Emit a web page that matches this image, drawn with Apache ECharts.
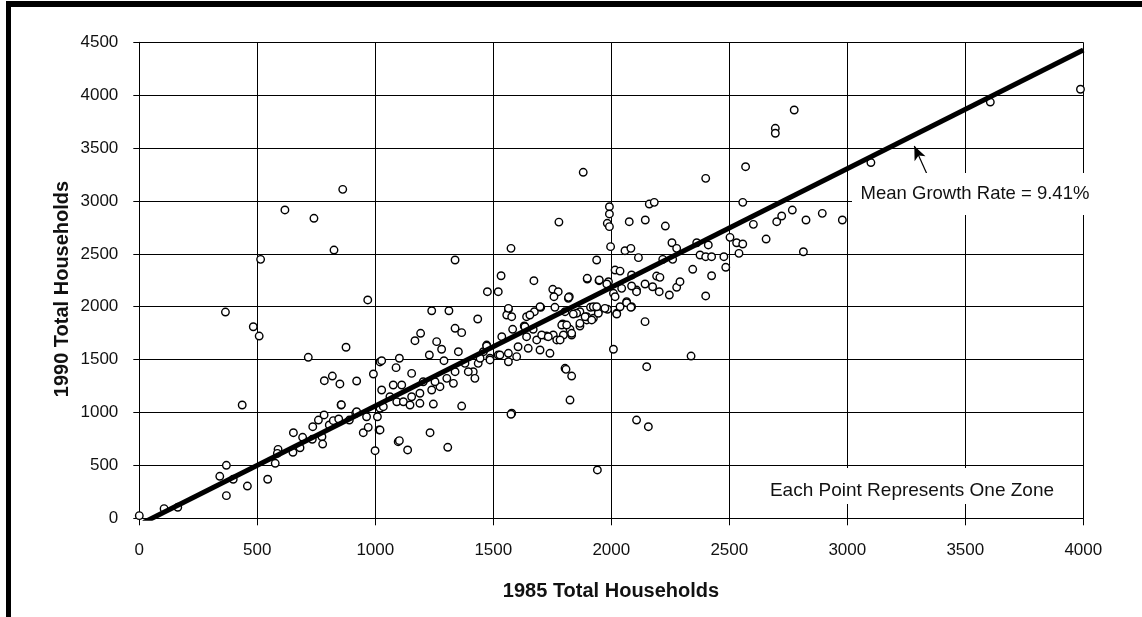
<!DOCTYPE html>
<html>
<head>
<meta charset="utf-8">
<script src="https://cdn.jsdelivr.net/npm/echarts@6/dist/echarts.min.js"></script>
<style>
  html, body { margin: 0; padding: 0; background: #fff; }
  #chart { width: 1142px; height: 617px; }
</style>
</head>
<body>
<div id="chart"></div>
<script>
// ---- Data ----
const xTicks = [0, 500, 1000, 1500, 2000, 2500, 3000, 3500, 4000];
const yTicks = [0, 500, 1000, 1500, 2000, 2500, 3000, 3500, 4000, 4500];

// Each zone: [1985 total households, 1990 total households]
const zonesLow = [
  [0,25],[105,91],[163,104],[341,397],[369,501],[398,369],[369,214],[458,305],[544,369],[576,520],
  [588,652],[585,614],[653,809],[651,624],[681,667],[692,766],[735,866],[733,747],[759,929],[774,771],
  [777,702],[783,977],[805,882],[822,923],[845,939],[855,1071],[890,929],[917,993],[949,809],[970,860],
  [963,960],[999,639],[1009,960],[1016,835],[1097,724],[436,1071],[1020,1040],[1091,1102]
];
const zonesOutliersLeft = [
  [365,1950],[483,1811],[508,1723],[716,1522],[876,1617],[784,1301],[818,1345],[850,1270],[921,1298],
  [992,1364],[856,1074],[1020,1478],[921,1008],[862,3110],[617,2915],[740,2836],[825,2536],[514,2448],[968,2064]
];
const zonesMid = [
  [1338,2442],[1938,2442],[1533,2293],[1672,2246],[1475,2142],[1521,2142],[1898,2262],[1948,2246],[1752,2165],[1775,2142],
  [1757,2095],[1818,2080],[1239,1962],[1312,1962],[1434,1884],[1564,1976],[1557,1922],[1578,1906],[1641,1906],[1674,1953],
  [1701,1995],[1761,1995],[1867,1953],[1912,1995],[1984,1976],[1338,1796],[1366,1755],[1192,1749],[1168,1679],[1260,1670],
  [1281,1598],[1352,1575],[1229,1544],[1102,1513],[1027,1490],[1088,1424],[1291,1490],[1472,1638],[1536,1717],[1582,1787],
  [1631,1818],[1641,1717],[1684,1686],[1726,1723],[1754,1733],[1794,1837],[1825,1787],[1832,1733],[1896,1875],[1605,1622],
  [1648,1607],[1698,1591],[1740,1560],[1564,1560],[1564,1480],[1521,1544],[1486,1513],[1436,1465],[1415,1386],[1422,1323],
  [1338,1386],[1331,1276],[1274,1244],[1203,1291],[1154,1370],[1154,1149],[1112,1260],[1062,1149],[1119,1102],[1147,1071],
  [1246,1080],[1366,1061],[1034,1055],[1578,993],[1804,1418],[1832,1345],[1825,1118],[1232,809],[1102,734],[1137,646],
  [1307,671],[1020,835],[1669,1787],[1797,1733],[1867,1818],[1924,1891],[1945,1953],[1458,1575],[1394,1386],[1380,1465],
  [1303,1323],[1253,1291],[1239,1213],[1189,1182],[1076,1260],[1189,1087],[1027,1213]
];
const zonesCluster = [
  [1472,1629],[1444,1513],[1486,1497],[1528,1544],[1564,1985],[1599,1528],[1634,1811],[1655,1922],[1698,2000],[1705,1733],
  [1733,1717],[1769,1686],[1790,1827],[1822,2095],[1853,1938],[1867,1843],[1896,1906],[1924,2000],[1945,1938],[1988,2237],
  [2009,2127],[2023,1938],[2065,2048],[2086,2000],[2086,2300],[2107,2158],[1839,1931],[1889,1906],[1917,1875],[1938,2000],
  [1973,1985],[1811,1827],[1832,1749],[1783,1686],[2044,2174],[1981,2215],[2037,2000],[1804,1953]
];
const zonesHigh = [
  [1881,3271],[2400,3214],[2569,3324],[1992,2946],[1992,2877],[1983,2789],[1992,2757],[2161,2971],[2182,2987],[2076,2804],
  [2144,2820],[2229,2763],[2557,2987],[2602,2779],[2656,2640],[2701,2804],[2722,2858],[2767,2914],[2825,2820],[2814,2520],
  [1997,2568],[2058,2530],[2083,2552],[2115,2464],[2257,2605],[2277,2552],[2411,2584],[2376,2489],[2400,2473],[2425,2473],
  [2477,2473],[2503,2656],[2531,2605],[2557,2593],[2541,2505],[2485,2373],[2345,2354],[2425,2293],[2400,2102],[2218,2448],
  [2016,2347],[2037,2337],[2192,2290],[2206,2278],[2143,2215],[2175,2189],[2203,2142],[2246,2111],[2277,2184],[2291,2237],
  [2107,2142],[2086,2196],[1898,2269],[1949,2253],[2016,2095],[2065,2038],[2083,1995],[2143,1859],[2023,1931],[2009,1598],
  [2338,1534],[1819,2089],[1778,2800],[2362,2605],[2260,2448],[1575,2552],[1941,457],[1575,983],[2107,929],[2157,866],
  [1808,1408],[2150,1433],[2695,3687],[2695,3640],[2775,3860],[3100,3363],[3606,3935],[3988,4056],[2894,2883],[2979,2820]
];
const zones = [].concat(zonesLow, zonesOutliersLeft, zonesMid, zonesCluster, zonesHigh);

// Mean growth line (end points)
const trend1985 = [18, 4000];
const trend1990 = [-40, 4427];

// Annotation arrow (tail -> head), data coordinates
const arrow1985 = [3336, 3284];
const arrow1990 = [3261, 3520];

const chart = echarts.init(document.getElementById('chart'), null, { renderer: 'canvas' });

const axisTxt = {
  color: '#111', fontFamily: 'Liberation Sans, Arial, sans-serif', fontSize: 17,
  formatter: function (v) { return String(v); }
};

chart.setOption({
  animation: false,
  backgroundColor: '#fff',
  grid: { left: 139.3, right: 58.7, top: 42.3, bottom: 98.7, containLabel: false },
  xAxis: {
    type: 'value', min: xTicks[0], max: xTicks[xTicks.length - 1], interval: 500,
    axisLine: { show: true, lineStyle: { color: '#000', width: 1 } },
    axisTick: { show: true, length: 7, lineStyle: { color: '#000', width: 1 } },
    splitLine: { show: true, lineStyle: { color: '#000', width: 1 } },
    axisLabel: Object.assign({ margin: 24 }, axisTxt)
  },
  yAxis: {
    type: 'value', min: yTicks[0], max: yTicks[yTicks.length - 1], interval: 500,
    axisLine: { show: true, lineStyle: { color: '#000', width: 1 } },
    axisTick: { show: true, length: 6, lineStyle: { color: '#000', width: 1 } },
    splitLine: { show: true, lineStyle: { color: '#000', width: 1 } },
    axisLabel: Object.assign({ margin: 21 }, axisTxt)
  },
  series: [
    {
      type: 'scatter',
      data: zones,
      symbol: 'circle',
      symbolSize: 7.5,
      itemStyle: { color: '#fff', borderColor: '#000', borderWidth: 1.4, opacity: 1 },
      z: 3
    },
    {
      type: 'line',
      data: trend1985.map((x, i) => [x, trend1990[i]]),
      symbol: 'none',
      lineStyle: { color: '#000', width: 5 },
      z: 5,
      markLine: {
        silent: true,
        symbol: ['none', 'arrow'],
        symbolSize: [9, 14],
        label: { show: false },
        lineStyle: { color: '#000', width: 1.2, type: 'solid' },
        data: [[
          { coord: [arrow1985[0], arrow1990[0]] },
          { coord: [arrow1985[1], arrow1990[1]] }
        ]]
      }
    }
  ],
  graphic: [
    // outer frame (top and left bars)
    { type: 'rect', shape: { x: 6, y: 1, width: 1136, height: 6 }, style: { fill: '#000' }, z: 100 },
    { type: 'rect', shape: { x: 6, y: 1, width: 5, height: 616 }, style: { fill: '#000' }, z: 100 },
    // white boxes behind annotation texts
    { type: 'rect', shape: { x: 852, y: 173, width: 245, height: 42 }, style: { fill: '#fff' }, z: 10 },
    { type: 'rect', shape: { x: 763, y: 468, width: 298, height: 36 }, style: { fill: '#fff' }, z: 10 },
    { type: 'text', x: 975, y: 194, z: 11,
      style: { text: 'Mean Growth Rate = 9.41%', fill: '#111', font: '18.5px "Liberation Sans", Arial, sans-serif',
               textAlign: 'center', textVerticalAlign: 'middle' } },
    { type: 'text', x: 912, y: 491, z: 11,
      style: { text: 'Each Point Represents One Zone', fill: '#111', font: '19px "Liberation Sans", Arial, sans-serif',
               textAlign: 'center', textVerticalAlign: 'middle' } },
    // axis titles
    { type: 'text', x: 611, y: 591, z: 11,
      style: { text: '1985 Total Households', fill: '#111', font: 'bold 20px "Liberation Sans", Arial, sans-serif',
               textAlign: 'center', textVerticalAlign: 'middle' } },
    { type: 'text', x: 62, y: 289, rotation: Math.PI / 2, z: 11,
      style: { text: '1990 Total Households', fill: '#111', font: 'bold 20px "Liberation Sans", Arial, sans-serif',
               textAlign: 'center', textVerticalAlign: 'middle' } }
  ]
});
</script>
</body>
</html>
